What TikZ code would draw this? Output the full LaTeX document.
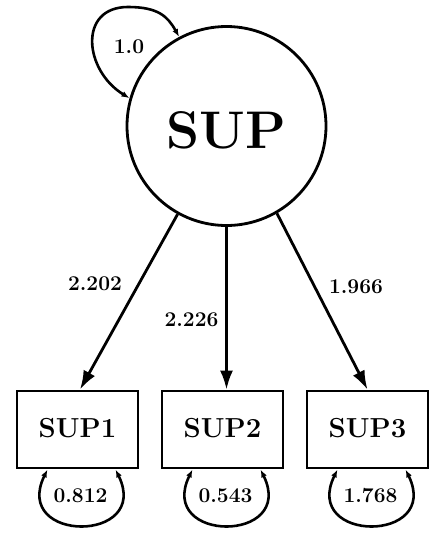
\documentclass[tikz,border=0pt]{standalone}
\usepackage{fontspec}
\usetikzlibrary{arrows.meta,calc}
\begin{document}
\begin{tikzpicture}[x=1pt,y=1pt,
  latent/.style={circle,draw,line width=2.8pt,minimum size=199pt,inner sep=0pt,text height=44.4pt,text depth=0pt,font=\fontsize{53}{60}\selectfont\bfseries},
  manifest/.style={rectangle,draw,line width=2.8pt,minimum width=121pt,minimum height=77pt,inner sep=0pt,text height=15.9pt,text depth=0pt,font=\fontsize{27.5}{30}\selectfont\bfseries},
  loading/.style={line width=2.8pt,-{Latex[length=19pt,width=13pt]}},
  variance/.style={line width=2.6pt,{Latex[length=8pt,width=6pt]}-{Latex[length=8pt,width=6pt]}},
  coef/.style={font=\fontsize{21}{24}\selectfont\bfseries,inner sep=0pt}]
\useasboundingbox (0,0) rectangle (441,-538);
\node[latent] (sup) at (226.5,-126) {SUP};
\node[manifest] (sup1) at (77.5,-429.5) {SUP1};
\node[manifest] (sup2) at (222.5,-429.5) {SUP2};
\node[manifest] (sup3) at (367.5,-429.5) {SUP3};
% loadings
\draw[loading] (sup.-119.6) -- ([xshift=2.5pt]sup1.north);
\draw[loading] (sup.south) -- (sup.south |- sup2.north);
\draw[loading] (sup.-60.9) -- (sup3.north);
\node[coef] (l1) at (95,-284) {2.202};
\node[coef] (l2) at (191.5,-320) {2.226};
\node[coef] (l3) at (356,-287) {1.966};
% latent variance
\coordinate (top) at (128,-7);
\draw[variance] (sup.164) .. controls (83.9,-70.3) and (78,-7) .. (top) .. controls (158,-7) and (167.6,-16.3) .. (sup.118);
\node[coef] (v0) at (129,-47) {1.0};
% residual variances
\draw[variance] ([xshift=-30pt]sup1.south) .. controls +(-36,-74) and +(36,-74) .. ([xshift=38pt]sup1.south);
\draw[variance] ([xshift=-30pt]sup2.south) .. controls +(-36,-74) and +(36,-74) .. ([xshift=38pt]sup2.south);
\draw[variance] ([xshift=-30pt]sup3.south) .. controls +(-36,-74) and +(36,-74) .. ([xshift=38pt]sup3.south);
\node[coef] (v1) at ($(sup1.south)+(3,-26)$) {0.812};
\node[coef] (v2) at ($(sup2.south)+(3,-26)$) {0.543};
\node[coef] (v3) at ($(sup3.south)+(3,-26)$) {1.768};
\end{tikzpicture}
\end{document}
